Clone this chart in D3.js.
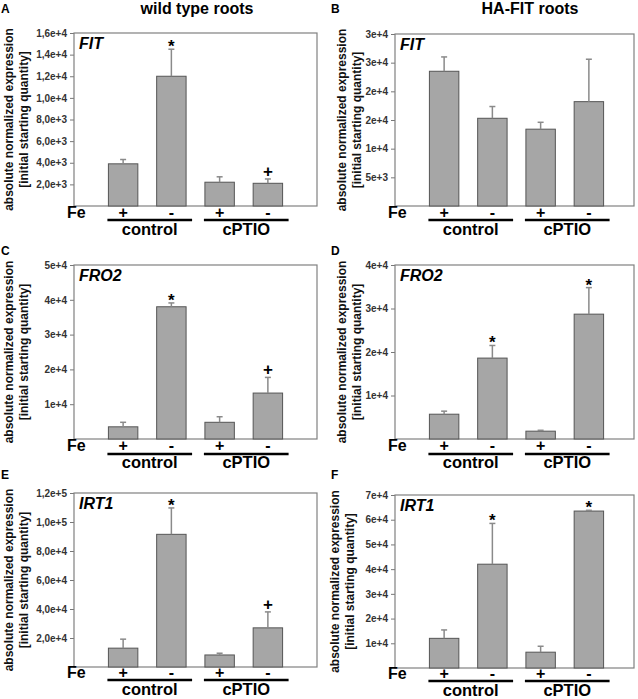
<!DOCTYPE html>
<html>
  <head>
    <style media="screen">
      body { margin: 0; background: #fff; }
      text { font-family: "Liberation Sans", Arial, sans-serif; }
    </style>
  </head>
  <body>
    <svg></svg>
    <script src="https://d3js.org/d3.v7.min.js"></script>
    <script type="text/javascript">

      // Fe treatments and groups
      var feLabels = ["+", "-", "+", "-"];
      var groups = ["control", "cPTIO"];

      // A - FIT, wild type roots
      var fitWtMean = [3900, 12000, 2200, 2100];
      var fitWtSd = [400, 2500, 500, 400];
      var fitWtSig = ["", "*", "", "+"];
      var fitWtTicks = [2000, 4000, 6000, 8000, 10000, 12000, 14000, 16000];
      var fitWtTickLabels = ["2,0e+3", "4,0e+3", "6,0e+3", "8,0e+3", "1,0e+4", "1,2e+4", "1,4e+4", "1,6e+4"];

      // B - FIT, HA-FIT roots
      var fitHaMean = [23500, 15300, 13400, 18200];
      var fitHaSd = [2500, 2050, 1200, 7400];
      var fitHaSig = ["", "", "", ""];
      var fitHaTicks = [5000, 10000, 15000, 20000, 25000, 30000];
      var fitHaTickLabels = ["5e+3", "1e+4", "2e+4", "2e+4", "3e+4", "3e+4"];

      // C - FRO2, wild type roots
      var fro2WtMean = [3500, 38000, 4800, 13200];
      var fro2WtSd = [1300, 1100, 1600, 4500];
      var fro2WtSig = ["", "*", "", "+"];
      var fro2WtTicks = [10000, 20000, 30000, 40000, 50000];
      var fro2WtTickLabels = ["1e+4", "2e+4", "3e+4", "4e+4", "5e+4"];

      // D - FRO2, HA-FIT roots
      var fro2HaMean = [5700, 18600, 1800, 28700];
      var fro2HaSd = [700, 2900, 200, 6100];
      var fro2HaSig = ["", "*", "", "*"];
      var fro2HaTicks = [10000, 20000, 30000, 40000];
      var fro2HaTickLabels = ["1e+4", "2e+4", "3e+4", "4e+4"];

      // E - IRT1, wild type roots
      var irt1WtMean = [13000, 91500, 8300, 27000];
      var irt1WtSd = [6200, 18200, 1200, 11000];
      var irt1WtSig = ["", "*", "", "+"];
      var irt1WtTicks = [20000, 40000, 60000, 80000, 100000, 120000];
      var irt1WtTickLabels = ["2,0e+4", "4,0e+4", "6,0e+4", "8,0e+4", "1,0e+5", "1,2e+5"];

      // F - IRT1, HA-FIT roots
      var irt1HaMean = [12000, 42000, 6400, 63500];
      var irt1HaSd = [3400, 16500, 2400, 300];
      var irt1HaSig = ["", "*", "", "*"];
      var irt1HaTicks = [10000, 20000, 30000, 40000, 50000, 60000, 70000];
      var irt1HaTickLabels = ["1e+4", "2e+4", "3e+4", "4e+4", "5e+4", "6e+4", "7e+4"];

      var svg = d3.select("svg")
        .attr("width", 638)
        .attr("height", 699)

      // column titles
      svg.append("text").attr("x", 197).attr("y", 14)
        .attr("text-anchor", "middle").attr("font-size", 16).attr("font-weight", "bold")
        .text("wild type roots")
      svg.append("text").attr("x", 530).attr("y", 14)
        .attr("text-anchor", "middle").attr("font-size", 16).attr("font-weight", "bold")
        .text("HA-FIT roots")

      var panels = [
        { letter: "A", gene: "FIT", mean: fitWtMean, sd: fitWtSd, sig: fitWtSig, ticks: fitWtTicks, labels: fitWtTickLabels },
        { letter: "B", gene: "FIT", mean: fitHaMean, sd: fitHaSd, sig: fitHaSig, ticks: fitHaTicks, labels: fitHaTickLabels },
        { letter: "C", gene: "FRO2", mean: fro2WtMean, sd: fro2WtSd, sig: fro2WtSig, ticks: fro2WtTicks, labels: fro2WtTickLabels },
        { letter: "D", gene: "FRO2", mean: fro2HaMean, sd: fro2HaSd, sig: fro2HaSig, ticks: fro2HaTicks, labels: fro2HaTickLabels },
        { letter: "E", gene: "IRT1", mean: irt1WtMean, sd: irt1WtSd, sig: irt1WtSig, ticks: irt1WtTicks, labels: irt1WtTickLabels },
        { letter: "F", gene: "IRT1", mean: irt1HaMean, sd: irt1HaSd, sig: irt1HaSig, ticks: irt1HaTicks, labels: irt1HaTickLabels }
      ]

      // plot box of each panel, letter position, axis-title x, offsets of the Fe row below the box
      var layout = [
        { left: 74, right: 317, top: 33, bottom: 206, letterX: 1, letterY: 13, titleX: 13, feDy: 12, lineDy: 14, groupDy: 29 },
        { left: 395, right: 634, top: 34, bottom: 206, letterX: 331, letterY: 13, titleX: 346, feDy: 12, lineDy: 14, groupDy: 29 },
        { left: 74, right: 317, top: 265, bottom: 439, letterX: 1, letterY: 255, titleX: 13, feDy: 12, lineDy: 15, groupDy: 29 },
        { left: 395, right: 634, top: 265, bottom: 439, letterX: 331, letterY: 255, titleX: 346, feDy: 12, lineDy: 15, groupDy: 29 },
        { left: 74, right: 317, top: 493, bottom: 667, letterX: 1, letterY: 479, titleX: 13, feDy: 10.5, lineDy: 13, groupDy: 27.5 },
        { left: 395, right: 634, top: 495, bottom: 668, letterX: 331, letterY: 479, titleX: 339, feDy: 10.5, lineDy: 13, groupDy: 27.5 }
      ]

      panels.forEach((p, i) => drawPanel(p, layout[i]))

      function drawPanel(p, L) {
        var g = svg.append("g")

        var x = d3.scaleBand()
          .domain(d3.range(feLabels.length))
          .range([L.left + 25, L.left + 218])
          .paddingInner(0.39)
          .paddingOuter(0.195)

        var y = d3.scaleLinear()
          .domain([0, d3.max(p.ticks)])
          .range([L.bottom, L.top])

        // panel letter
        g.append("text").attr("x", L.letterX).attr("y", L.letterY)
          .attr("font-size", 12).attr("font-weight", "bold").text(p.letter)

        // y axis title, two lines
        var cy = (L.top + L.bottom) / 2
        g.append("text")
          .attr("transform", "translate(" + L.titleX + "," + cy + ") rotate(-90)")
          .attr("text-anchor", "middle").attr("font-size", 12).attr("font-weight", "bold")
          .attr("fill", "#111")
          .text("absolute normalized expression")
        g.append("text")
          .attr("transform", "translate(" + (L.titleX + 15) + "," + cy + ") rotate(-90)")
          .attr("text-anchor", "middle").attr("font-size", 12).attr("font-weight", "bold")
          .attr("fill", "#111")
          .text("[initial starting quantity]")

        // y axis
        var axis = g.append("g")
          .attr("transform", "translate(" + L.left + ",0)")
          .call(d3.axisLeft(y)
            .tickValues(p.ticks)
            .tickFormat((d, j) => p.labels[j])
            .tickSize(4)
            .tickPadding(3)
            .tickSizeOuter(0))
        axis.select(".domain").remove()
        axis.selectAll("line").attr("stroke", "#777")
        axis.selectAll("text")
          .attr("font-family", "Liberation Sans, Arial, sans-serif")
          .attr("font-size", 10).attr("font-weight", "bold").attr("fill", "#333")

        // frame
        g.append("rect")
          .attr("x", L.left).attr("y", L.top)
          .attr("width", L.right - L.left).attr("height", L.bottom - L.top)
          .attr("fill", "none").attr("stroke", "#808080").attr("stroke-width", 1.2)

        // gene name
        g.append("text").attr("x", L.left + 5).attr("y", L.top + 16)
          .attr("font-size", 16).attr("font-weight", "bold").attr("font-style", "italic")
          .text(p.gene)

        // bars
        g.selectAll(".bar")
          .data(p.mean)
          .enter().append("rect")
          .attr("class", "bar")
          .attr("x", (d, j) => x(j))
          .attr("width", x.bandwidth())
          .attr("y", d => y(d))
          .attr("height", d => L.bottom - y(d))
          .attr("fill", "#a6a6a6")
          .attr("stroke", "#555")
          .attr("stroke-width", 1)

        // error bars (upper only)
        var cx = j => x(j) + x.bandwidth() / 2
        g.selectAll(".err")
          .data(p.mean)
          .enter().append("line")
          .attr("class", "err")
          .attr("x1", (d, j) => cx(j)).attr("x2", (d, j) => cx(j))
          .attr("y1", d => y(d)).attr("y2", (d, j) => y(d + p.sd[j]))
          .attr("stroke", "#8a8a8a").attr("stroke-width", 1.5)
        g.selectAll(".cap")
          .data(p.mean)
          .enter().append("line")
          .attr("class", "cap")
          .attr("x1", (d, j) => cx(j) - 3).attr("x2", (d, j) => cx(j) + 3)
          .attr("y1", (d, j) => y(d + p.sd[j])).attr("y2", (d, j) => y(d + p.sd[j]))
          .attr("stroke", "#8a8a8a").attr("stroke-width", 1.5)

        // significance marks
        g.selectAll(".sig")
          .data(p.sig)
          .enter().append("text")
          .attr("class", "sig")
          .attr("x", (d, j) => cx(j))
          .attr("y", (d, j) => y(p.mean[j] + p.sd[j]) + (d == "*" ? 3 : -2))
          .attr("text-anchor", "middle").attr("font-size", 17).attr("font-weight", "bold")
          .text(d => d)

        // Fe row
        g.append("text").attr("x", L.left - 7).attr("y", L.bottom + L.feDy)
          .attr("font-size", 16).attr("font-weight", "bold").text("Fe")
        g.selectAll(".fe")
          .data(feLabels)
          .enter().append("text")
          .attr("class", "fe")
          .attr("x", (d, j) => cx(j))
          .attr("y", L.bottom + L.feDy)
          .attr("text-anchor", "middle").attr("font-size", 16).attr("font-weight", "bold")
          .text(d => d)

        // group lines and names
        groups.forEach((name, k) => {
          var x1 = x(2 * k) - 1
          var x2 = x(2 * k + 1) + x.bandwidth() + 6
          g.append("line")
            .attr("x1", x1).attr("x2", x2)
            .attr("y1", L.bottom + L.lineDy).attr("y2", L.bottom + L.lineDy)
            .attr("stroke", "#000").attr("stroke-width", 2.6)
          g.append("text")
            .attr("x", (x1 + x2) / 2).attr("y", L.bottom + L.groupDy)
            .attr("text-anchor", "middle").attr("font-size", 16.5).attr("font-weight", "bold")
            .text(name)
        })
      }
    </script>
  </body>
</html>
